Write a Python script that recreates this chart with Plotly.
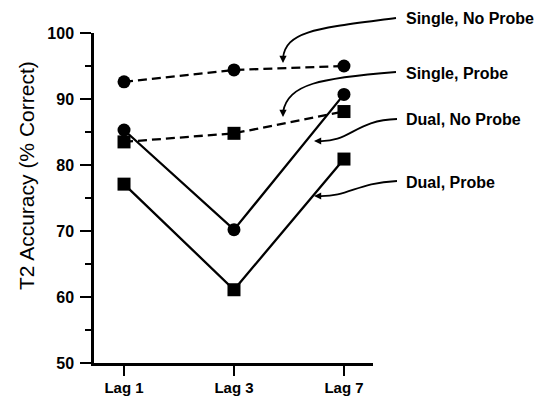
import plotly.graph_objects as go

# ---- data ----
lags = ["Lag 1", "Lag 3", "Lag 7"]
single_no_probe = [92.6, 94.4, 95.0]
single_probe = [85.3, 70.2, 90.7]
dual_no_probe = [83.5, 84.8, 88.1]
dual_probe = [77.1, 61.1, 80.9]
y_ticks = [50, 60, 70, 80, 90, 100]
series_names = ["Single, No Probe", "Single, Probe", "Dual, No Probe", "Dual, Probe"]

W, H = 538, 400
L, R, T, B = 94, 165, 33, 37
PW, PH = W - L - R, H - T - B

def P(px, py):
    """pixel -> paper coords (for decorative callout curves)"""
    return ((px - L) / PW, (H - B - py) / PH)

xpos = list(range(len(lags)))

fig = go.Figure()

def add(vals, symbol, dash, name):
    fig.add_trace(go.Scatter(
        x=xpos, y=vals, mode="lines+markers", name=name,
        line=dict(color="black", width=2.3, dash=dash),
        marker=dict(symbol=symbol, size=13, color="black"),
        cliponaxis=False, showlegend=False))

add(single_no_probe, "circle", "9px,5px", series_names[0])
add(dual_no_probe, "square", "9px,5px", series_names[2])
add(single_probe, "circle", "solid", series_names[1])
add(dual_probe, "square", "solid", series_names[3])

# callout curves (pixel geometry), label position, arrow direction
callouts = [
    (series_names[0], [(396, 18), (320, 28), (286, 30), (283, 58)], 19, (0, -7)),
    (series_names[1], [(396, 72), (320, 78), (288, 84), (283, 112)], 73, (0, -7)),
    (series_names[2], [(397, 119), (355, 120), (350, 143), (318, 141)], 119, (7, 0)),
    (series_names[3], [(397, 181), (355, 183), (350, 197), (318, 196)], 182, (7, 0)),
]

shapes = []
annotations = []
for name, pts, ly, (dx, dy) in callouts:
    p = [P(*q) for q in pts]
    path = "M {},{} C {},{} {},{} {},{}".format(
        p[0][0], p[0][1], p[1][0], p[1][1], p[2][0], p[2][1], p[3][0], p[3][1])
    shapes.append(dict(type="path", path=path, xref="paper", yref="paper",
                       line=dict(color="black", width=1.8)))
    tx, ty = P(pts[3][0] - (4 if dx else 0), pts[3][1] + (5 if dy else 0))
    annotations.append(dict(x=tx, y=ty, xref="paper", yref="paper", text="",
                            showarrow=True, ax=dx, ay=dy, arrowhead=2, arrowsize=0.8,
                            arrowwidth=1.8, standoff=0, arrowcolor="black"))
    lx, lyp = P(404, ly)
    annotations.append(dict(x=lx, y=lyp, xref="paper", yref="paper", text=name,
                            showarrow=False, xanchor="left", yanchor="middle",
                            font=dict(family="Liberation Sans, Arial", size=16,
                                      color="black", weight="bold")))

# y-axis title
annotations.append(dict(x=P(26, 0)[0], y=P(0, 176)[1], xref="paper", yref="paper",
                        text="T2 Accuracy (% Correct)", textangle=-90, showarrow=False,
                        xanchor="center", yanchor="middle",
                        font=dict(family="Liberation Sans, Arial", size=21, color="black")))

fig.update_layout(
    width=W, height=H,
    margin=dict(l=L, r=R, t=T, b=B, autoexpand=False),
    paper_bgcolor="white", plot_bgcolor="white",
    shapes=shapes, annotations=annotations,
    xaxis=dict(range=[-0.273, 2.264], tickvals=xpos, ticktext=lags, automargin=False,
               showline=True, linecolor="black", linewidth=2.5, mirror=False,
               ticks="outside", ticklen=10, tickwidth=2, tickcolor="black",
               showgrid=False, zeroline=False, ticklabelstandoff=-1,
               tickfont=dict(family="Liberation Sans, Arial", size=15, color="black", weight="bold")),
    yaxis=dict(range=[50, 100], tickvals=y_ticks, automargin=False,
               showline=True, linecolor="black", linewidth=2.5,
               ticks="outside", ticklen=11, tickwidth=2, tickcolor="black",
               minor=dict(dtick=5, ticks="outside", ticklen=6, tickwidth=1.5, tickcolor="black", showgrid=False),
               showgrid=False, zeroline=False, ticklabelstandoff=3,
               tickfont=dict(family="Liberation Sans, Arial", size=16, color="black", weight="bold")),
)

fig.write_html("out.html")
